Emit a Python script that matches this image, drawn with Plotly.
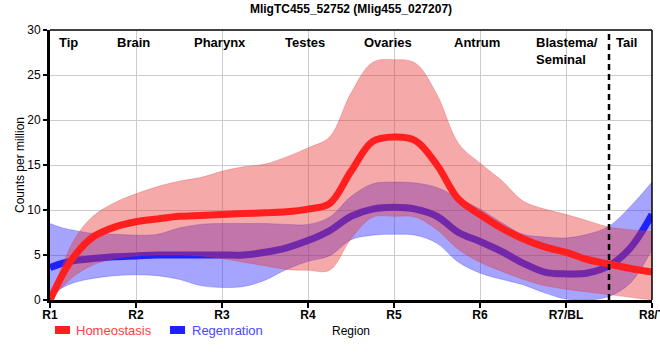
import plotly.graph_objects as go

# ---- data ----
regions = ["R1", "R2", "R3", "R4", "R5", "R6", "R7/BL", "R8/T"]
tissues = ["Tip", "Brain", "Pharynx", "Testes", "Ovaries", "Antrum", "Blastema/<br>Seminal", "Tail"]
tissue_pos = [0.22, 0.97, 1.98, 2.96, 3.93, 4.96, 5.63, 6.7]

pos = [0, 0.15, 0.3, 0.5, 0.75, 1, 1.25, 1.5, 1.75, 2, 2.25, 2.5, 2.75, 3, 3.25,
       3.5, 3.75, 4, 4.25, 4.5, 4.75, 5, 5.25, 5.5, 5.75, 6, 6.25, 6.5, 6.75, 7]

homeo_mean = [0, 2.9, 5.1, 7.0, 8.1, 8.7, 9.0, 9.3, 9.4, 9.5, 9.6, 9.7, 9.8, 10.1, 10.7,
              14.3, 17.6, 18.1, 17.7, 15.0, 11.2, 9.5, 8.0, 6.8, 5.9, 5.3, 4.5, 4.0, 3.5, 3.1]
homeo_upper = [0, 4.0, 7.0, 9.3, 10.8, 11.8, 12.6, 13.2, 13.6, 14.3, 14.8, 15.1, 15.9, 16.9, 18.1,
               23.0, 26.4, 26.7, 26.3, 22.8, 17.4, 15.2, 13.3, 11.0, 10.1, 9.5, 8.8, 8.1, 7.8, 7.6]
homeo_lower = [0, 1.5, 2.8, 3.9, 4.6, 4.9, 5.0, 5.0, 4.9, 4.6, 4.2, 3.8, 3.4, 3.3, 3.3,
               6.8, 9.2, 9.3, 9.2, 7.8, 5.6, 4.2, 3.2, 2.3, 1.6, 1.2, 0.9, 0.6, 0.3, 0.0]

regen_mean = [3.6, 4.1, 4.4, 4.6, 4.8, 4.9, 5.0, 5.0, 5.0, 5.0, 5.0, 5.3, 5.8, 6.6, 7.7,
              9.3, 10.1, 10.3, 10.1, 9.3, 7.5, 6.5, 5.4, 4.1, 3.1, 2.9, 3.0, 3.8, 5.8, 9.5]
regen_upper = [8.5, 8.0, 7.7, 7.4, 7.3, 7.2, 7.3, 8.0, 8.4, 8.5, 8.5, 8.5, 8.4, 8.4, 9.2,
               11.5, 12.9, 13.1, 13.0, 12.5, 11.3, 10.1, 8.6, 7.3, 7.0, 6.9, 7.3, 8.2, 10.4, 13.1]
regen_lower = [0.5, 1.4, 2.0, 2.4, 2.7, 2.8, 2.7, 2.3, 1.6, 1.4, 1.5, 2.2, 3.4, 4.3, 4.9,
               6.7, 7.2, 7.3, 7.2, 6.3, 4.2, 3.0, 2.3, 1.7, 0.8, 0.1, 0.0, 0.4, 1.9, 5.6]

title_text = "MligTC455_52752 (Mlig455_027207)"
series_names = ["Homeostasis", "Regenration"]

FONT = "Arial, 'Liberation Sans', sans-serif"
RED_LINE = "#ff1f1f"
BLUE_LINE = "#2020ff"
RED_BAND = "rgba(230,50,50,0.42)"
BLUE_BAND = "rgba(40,40,255,0.42)"

fig = go.Figure()

def band(lower, upper, fillcol, edgecol):
    fig.add_trace(go.Scatter(x=pos, y=lower, mode="lines", line=dict(width=0.8, color=edgecol, shape="spline"),
                             hoverinfo="skip", showlegend=False))
    fig.add_trace(go.Scatter(x=pos, y=upper, mode="lines", line=dict(width=0.8, color=edgecol, shape="spline"),
                             fill="tonexty", fillcolor=fillcol, hoverinfo="skip", showlegend=False))

band(regen_lower, regen_upper, BLUE_BAND, "rgba(40,40,255,0.35)")
fig.add_trace(go.Scatter(x=pos, y=regen_mean, mode="lines", name=series_names[1],
                         line=dict(width=7, color=BLUE_LINE, shape="spline"), showlegend=False))
band(homeo_lower, homeo_upper, RED_BAND, "rgba(220,50,50,0.35)")
fig.add_trace(go.Scatter(x=pos, y=homeo_mean, mode="lines", name=series_names[0],
                         line=dict(width=7, color=RED_LINE, shape="spline"), showlegend=False))

shapes = [
    # dashed boundary between R7 and R8
    dict(type="line", xref="x", yref="paper", x0=6.5, x1=6.5, y0=0, y1=1,
         line=dict(color="black", width=2.5, dash="6px,4px")),
    # top and right frame
    dict(type="line", xref="paper", yref="paper", x0=0, x1=1, y0=1, y1=1, line=dict(color="black", width=1.5)),
    dict(type="line", xref="paper", yref="paper", x0=1, x1=1, y0=0, y1=1, line=dict(color="black", width=1.5)),
]

annotations = []
for name, xp in zip(tissues, tissue_pos):
    if "Blastema" in name:
        annotations.append(dict(x=xp, y=0.99, xref="x", yref="paper", text="<b>" + name + "</b>",
                                showarrow=False, xanchor="left", yanchor="top", align="left",
                                font=dict(family=FONT, size=13, color="black")))
    else:
        annotations.append(dict(x=xp, y=0.99, xref="x", yref="paper", text="<b>" + name + "</b>",
                                showarrow=False, xanchor="center", yanchor="top",
                                font=dict(family=FONT, size=13, color="black")))

# custom legend (swatch + coloured text)
leg = [(series_names[0], RED_LINE, "#ff4040", 55, 74), (series_names[1], BLUE_LINE, "#4848ff", 170, 190)]
for name, swcol, txtcol, x0, xt in leg:
    shapes.append(dict(type="rect", xref="paper", yref="paper",
                       x0=(x0 - 50) / 602, x1=(x0 + 15 - 50) / 602,
                       y0=(300 - 334) / 270, y1=(300 - 326) / 270,
                       fillcolor=swcol, line=dict(width=0)))
    annotations.append(dict(x=(xt - 50) / 602, y=(300 - 330.5) / 270, xref="paper", yref="paper",
                            text=name, showarrow=False, xanchor="left", yanchor="middle",
                            font=dict(family=FONT, size=13, color=txtcol)))

fig.update_layout(
    width=660, height=360,
    margin=dict(l=50, r=8, t=30, b=60),
    paper_bgcolor="white", plot_bgcolor="white",
    font=dict(family=FONT, size=12, color="black"),
    title=dict(text="<b>" + title_text + "</b>", x=0.5, xref="paper", xanchor="center",
               y=0.975, yref="container", yanchor="middle",
               font=dict(family=FONT, size=12, color="black")),
    shapes=shapes, annotations=annotations, showlegend=False,
    xaxis=dict(range=[0, 7], tickmode="array", tickvals=list(range(len(regions))),
               ticktext=["<b>" + r + "</b>" for r in regions],
               showgrid=True, gridcolor="#cccccc", gridwidth=1, zeroline=False,
               showline=True, linecolor="black", linewidth=3,
               ticks="outside", ticklen=5, tickwidth=2, tickcolor="black",
               ticklabelstandoff=-3, ticklabeloverflow="allow",
               tickfont=dict(family=FONT, size=12, color="black"),
               title=dict(text="Region", standoff=6, font=dict(family=FONT, size=12)),
               automargin=False),
    yaxis=dict(range=[0, 30], tickvals=[0, 5, 10, 15, 20, 25, 30],
               showgrid=True, gridcolor="#cccccc", gridwidth=1, zeroline=False,
               showline=True, linecolor="black", linewidth=3,
               ticks="outside", ticklen=4, tickwidth=2, tickcolor="black",
               tickfont=dict(family=FONT, size=12, color="black"),
               title=dict(text="Counts per million", standoff=1, font=dict(family=FONT, size=12)),
               automargin=False),
)

fig.write_html("out.html", config={"displayModeBar": False},
               post_script="document.body.style.margin='0';document.body.style.overflow='hidden';")
